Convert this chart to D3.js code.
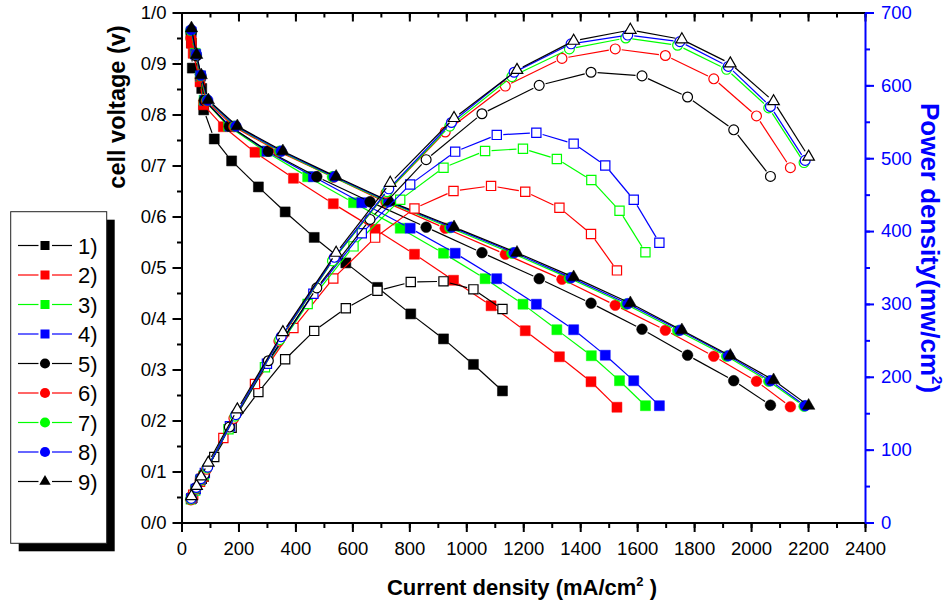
<!DOCTYPE html>
<html>
<head>
<meta charset="utf-8">
<script src="https://cdn.jsdelivr.net/npm/d3@7"></script>
<style>
  body { margin: 0; background: #fff; }
  svg { display: block; font-family: "Liberation Sans", Arial, sans-serif; }
</style>
</head>
<body>
<div id="chart"></div>
<script>
'use strict';

// ---- data ---------------------------------------------------------------
// current density, mA/cm2
const current1 = [35, 38, 71, 78, 115, 176, 270, 364, 466, 577, 688, 805, 920, 1025, 1127];
const current2 = [35, 41, 65, 77, 147, 258, 393, 533, 680, 818, 955, 1087, 1207, 1327, 1438, 1529];
const current3 = [33, 48, 66, 79, 165, 293, 443, 604, 768, 920, 1066, 1199, 1318, 1439, 1538, 1629];
const current4 = [34, 50, 67, 82, 170, 300, 463, 633, 803, 961, 1107, 1246, 1377, 1488, 1588, 1678];
const current5 = [34, 52, 68, 80, 168, 305, 475, 662, 859, 1055, 1256, 1438, 1617, 1777, 1939, 2068];
const current6 = [33, 50, 67, 88, 184, 342, 533, 718, 926, 1137, 1336, 1523, 1699, 1869, 2019, 2138];
const current7 = [33, 51, 67, 90, 188, 345, 530, 722, 942, 1160, 1362, 1560, 1742, 1914, 2062, 2186];
const current8 = [34, 52, 68, 92, 191, 350, 537, 728, 948, 1168, 1368, 1567, 1750, 1920, 2068, 2190];
const current9 = [35, 53, 69, 94, 196, 356, 543, 733, 957, 1178, 1377, 1576, 1757, 1927, 2079, 2202];

// cell voltage, V
const voltage1 = [0.94, 0.891, 0.851, 0.809, 0.752, 0.709, 0.658, 0.609, 0.559, 0.509, 0.461, 0.409, 0.360, 0.310, 0.258];
const voltage2 = [0.94, 0.92, 0.864, 0.819, 0.776, 0.726, 0.675, 0.625, 0.575, 0.526, 0.475, 0.425, 0.376, 0.325, 0.276, 0.226];
const voltage3 = [0.955, 0.92, 0.875, 0.828, 0.777, 0.728, 0.678, 0.627, 0.577, 0.528, 0.478, 0.428, 0.378, 0.327, 0.278, 0.229];
const voltage4 = [0.962, 0.918, 0.876, 0.828, 0.777, 0.728, 0.678, 0.627, 0.577, 0.528, 0.478, 0.428, 0.378, 0.328, 0.278, 0.229];
const voltage5 = [0.96, 0.915, 0.875, 0.828, 0.777, 0.728, 0.678, 0.629, 0.579, 0.529, 0.478, 0.43, 0.379, 0.328, 0.278, 0.23];
const voltage6 = [0.95, 0.918, 0.873, 0.826, 0.776, 0.727, 0.677, 0.628, 0.577, 0.526, 0.477, 0.426, 0.377, 0.326, 0.277, 0.227];
const voltage7 = [0.965, 0.918, 0.876, 0.828, 0.777, 0.728, 0.678, 0.629, 0.578, 0.528, 0.479, 0.428, 0.376, 0.326, 0.277, 0.228];
const voltage8 = [0.966, 0.918, 0.877, 0.828, 0.777, 0.728, 0.678, 0.629, 0.579, 0.529, 0.48, 0.429, 0.377, 0.327, 0.278, 0.229];
const voltage9 = [0.969, 0.917, 0.877, 0.828, 0.777, 0.728, 0.678, 0.629, 0.579, 0.529, 0.481, 0.43, 0.377, 0.327, 0.279, 0.229];

// power density, mW/cm2 (right axis)
const power1 = [33, 34, 60, 63, 90, 130, 179, 224, 263, 294, 318, 330, 331, 320, 293];
const power2 = [33, 38, 56, 63, 116, 190, 267, 335, 391, 431, 455, 462, 454, 432, 396, 346];
const power3 = [32, 44, 58, 65, 128, 213, 300, 379, 443, 487, 510, 513, 499, 470, 428, 371];
const power4 = [33, 46, 59, 68, 132, 218, 314, 397, 464, 509, 532, 535, 520, 490, 443, 384];
const power5 = [33, 48, 60, 66, 131, 222, 322, 416, 498, 561, 600, 618, 613, 584, 539, 475];
const power6 = [31, 46, 58, 73, 143, 249, 361, 452, 536, 599, 637, 650, 641, 609, 558, 487];
const power7 = [32, 47, 59, 75, 146, 251, 359, 454, 544, 612, 650, 665, 655, 622, 569, 494];
const power8 = [33, 48, 60, 76, 148, 255, 364, 458, 549, 618, 657, 669, 660, 626, 571, 497];
const power9 = [36, 50, 63, 82, 155, 261, 370, 466, 555, 621, 661, 676, 663, 630, 578, 502];

const seriesNames = ['1)', '2)', '3)', '4)', '5)', '6)', '7)', '8)', '9)'];

const xTicks = d3.range(0, 2401, 200);
const xMinor = d3.range(0, 2401, 100);
const vTicks = d3.range(0, 11).map(i => i / 10);
const vMinor = d3.range(0, 21).map(i => i / 20);
const pTicks = d3.range(0, 701, 100);
const pMinor = d3.range(0, 701, 50);

// ---- styles ---------------------------------------------------------------
const seriesColors = ['#000000', '#ff0000', '#00ff00', '#0000ff',
                      '#000000', '#ff0000', '#00ff00', '#0000ff', '#000000'];
const seriesShapes = ['square', 'square', 'square', 'square',
                      'circle', 'circle', 'circle', 'circle', 'triangle'];
const BLUE = '#0000ff';

const series = seriesNames.map((name, i) => ({
    name,
    color: seriesColors[i],
    shape: seriesShapes[i],
    current: [current1, current2, current3, current4, current5, current6, current7, current8, current9][i],
    voltage: [voltage1, voltage2, voltage3, voltage4, voltage5, voltage6, voltage7, voltage8, voltage9][i],
    power:   [power1, power2, power3, power4, power5, power6, power7, power8, power9][i]
}));

// ---- layout ---------------------------------------------------------------
const W = 952, H = 603;
const plot = { left: 181.5, right: 865, top: 12.5, bottom: 522.5 };

const x  = d3.scaleLinear().domain([0, 2400]).range([plot.left, plot.right]);
const yV = d3.scaleLinear().domain([0, 1]).range([plot.bottom, plot.top]);
const yP = d3.scaleLinear().domain([0, 700]).range([plot.bottom, plot.top]);

const svg = d3.select('#chart').append('svg')
    .attr('width', W)
    .attr('height', H);

// ---- symbols --------------------------------------------------------------
const symType = { square: d3.symbolSquare, circle: d3.symbolCircle, triangle: d3.symbolTriangle };
const symSize = { square: 100, circle: 90, triangle: 68 };
const legSize = { square: 81, circle: 80, triangle: 56 };

function symbolPath(shape, size) {
    return d3.symbol().type(symType[shape]).size(size)();
}

// line segments that stop short of each marker (Origin-style gap)
function gappedSegments(pts, gap) {
    const segs = [];
    for (let i = 0; i < pts.length - 1; i++) {
        const [x0, y0] = pts[i], [x1, y1] = pts[i + 1];
        const dx = x1 - x0, dy = y1 - y0;
        const len = Math.hypot(dx, dy);
        if (len <= 2 * gap + 1) continue;
        const ux = dx / len, uy = dy / len;
        segs.push([x0 + ux * gap, y0 + uy * gap, x1 - ux * gap, y1 - uy * gap]);
    }
    return segs;
}

function drawCurve(layer, s, yScale, values, filled) {
    const pts = s.current.map((c, i) => [x(c), yScale(values[i])]);
    const g = layer.append('g');

    g.selectAll('line')
        .data(gappedSegments(pts, 6.5))
        .join('line')
        .attr('x1', d => d[0]).attr('y1', d => d[1])
        .attr('x2', d => d[2]).attr('y2', d => d[3])
        .attr('stroke', s.color)
        .attr('stroke-width', 1.2);

    g.selectAll('path')
        .data(pts)
        .join('path')
        .attr('transform', d => `translate(${d[0]},${d[1]})`)
        .attr('d', symbolPath(s.shape, filled ? symSize[s.shape] : symSize[s.shape] * 0.85))
        .attr('fill', filled ? s.color : '#ffffff')
        .attr('stroke', s.color)
        .attr('stroke-width', filled ? 0.5 : 1.2);
}

// ---- curves: polarisation (filled) then power (open) -----------------------
const vLayer = svg.append('g');
series.forEach(s => drawCurve(vLayer, s, yV, s.voltage, true));

const pLayer = svg.append('g');
series.forEach(s => drawCurve(pLayer, s, yP, s.power, false));

// ---- axes -----------------------------------------------------------------
function styleAxis(g, color) {
    g.select('.domain').attr('stroke', color).attr('stroke-width', 2);
    g.selectAll('.tick line').attr('stroke', color).attr('stroke-width', 2);
    g.selectAll('.tick text')
        .attr('fill', color)
        .attr('font-size', 18.5)
        .attr('font-family', '"Liberation Sans", Arial, sans-serif');
}

function minorAxis(axis, translate, color) {
    const g = svg.append('g').attr('transform', translate).call(axis);
    g.select('.domain').remove();
    g.selectAll('.tick line').attr('stroke', color).attr('stroke-width', 2);
    g.selectAll('.tick text').remove();
}

// bottom
minorAxis(d3.axisBottom(x).tickValues(xMinor).tickSize(5.5).tickSizeOuter(0),
    `translate(0,${plot.bottom})`, '#000');
svg.append('g')
    .attr('transform', `translate(0,${plot.bottom})`)
    .call(d3.axisBottom(x).tickValues(xTicks).tickSize(9.5).tickSizeOuter(0).tickPadding(10)
        .tickFormat(d3.format('d')))
    .call(g => styleAxis(g, '#000'));

// top (ticks inward, no labels)
minorAxis(d3.axisTop(x).tickValues(xMinor).tickSize(-5).tickSizeOuter(0),
    `translate(0,${plot.top})`, '#000');
svg.append('g')
    .attr('transform', `translate(0,${plot.top})`)
    .call(d3.axisTop(x).tickValues(xTicks).tickSize(-9).tickSizeOuter(0).tickFormat(''))
    .call(g => styleAxis(g, '#000'));

// left — voltage
minorAxis(d3.axisLeft(yV).tickValues(vMinor).tickSize(4.5).tickSizeOuter(0),
    `translate(${plot.left},0)`, '#000');
svg.append('g')
    .attr('transform', `translate(${plot.left},0)`)
    .call(d3.axisLeft(yV).tickValues(vTicks).tickSize(9).tickSizeOuter(0).tickPadding(6)
        .tickFormat(d => d3.format('.1f')(d).replace('.', '/')))
    .call(g => styleAxis(g, '#000'));

// right — power
minorAxis(d3.axisRight(yP).tickValues(pMinor).tickSize(5).tickSizeOuter(0),
    `translate(${plot.right},0)`, BLUE);
svg.append('g')
    .attr('transform', `translate(${plot.right},0)`)
    .call(d3.axisRight(yP).tickValues(pTicks).tickSize(9).tickSizeOuter(0).tickPadding(7)
        .tickFormat(d3.format('d')))
    .call(g => styleAxis(g, BLUE));

// ---- axis titles ------------------------------------------------------------
const xTitle = svg.append('text')
    .attr('x', 522)
    .attr('y', 595)
    .attr('text-anchor', 'middle')
    .attr('font-size', 22)
    .attr('font-weight', 700)
    .attr('fill', '#000');
xTitle.append('tspan').text('Current density (mA/cm');
xTitle.append('tspan').attr('dy', -9).attr('font-size', 13).text('2');
xTitle.append('tspan').attr('dy', 9).text(' )');

svg.append('text')
    .attr('transform', 'translate(125,107) rotate(-90)')
    .attr('text-anchor', 'middle')
    .attr('font-size', 23.5)
    .attr('font-weight', 700)
    .attr('fill', '#000')
    .text('cell voltage (v)');

const pTitle = svg.append('text')
    .attr('transform', 'translate(921,248) rotate(90)')
    .attr('text-anchor', 'middle')
    .attr('font-size', 26)
    .attr('font-weight', 700)
    .attr('fill', BLUE);
pTitle.append('tspan').text('Power density(mw/cm');
pTitle.append('tspan').attr('dy', -11).attr('font-size', 15).text('2');
pTitle.append('tspan').attr('dy', 11).text(')');

// ---- legend -------------------------------------------------------------------
const leg = { x: 10.7, y: 211.7, w: 96, h: 331.6, shadow: 8 };

svg.append('rect')
    .attr('x', leg.x + leg.shadow).attr('y', leg.y + leg.shadow)
    .attr('width', leg.w).attr('height', leg.h)
    .attr('fill', '#000');
svg.append('rect')
    .attr('x', leg.x).attr('y', leg.y)
    .attr('width', leg.w).attr('height', leg.h)
    .attr('fill', '#fff')
    .attr('stroke', '#222')
    .attr('stroke-width', 1);

const legRows = svg.append('g').selectAll('g')
    .data(series)
    .join('g')
    .attr('transform', (d, i) => `translate(0,${245.5 + i * 29.5})`);

legRows.append('line')
    .attr('x1', 18).attr('x2', 38.5).attr('y1', 0).attr('y2', 0)
    .attr('stroke', d => d.color).attr('stroke-width', 1.2);
legRows.append('line')
    .attr('x1', 52).attr('x2', 72).attr('y1', 0).attr('y2', 0)
    .attr('stroke', d => d.color).attr('stroke-width', 1.2);
legRows.append('path')
    .attr('transform', 'translate(45,0)')
    .attr('d', d => symbolPath(d.shape, legSize[d.shape]))
    .attr('fill', d => d.color);
legRows.append('text')
    .attr('x', 78)
    .attr('y', 8)
    .attr('font-size', 22)
    .attr('fill', '#000')
    .text(d => d.name);
</script>
</body>
</html>
